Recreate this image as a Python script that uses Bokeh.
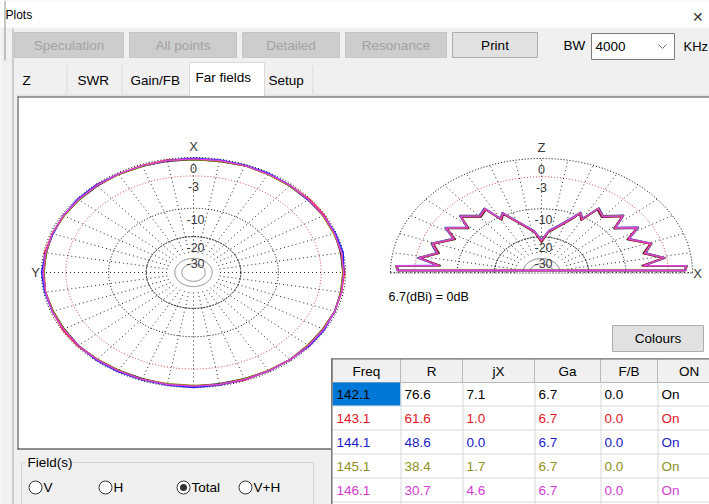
import numpy as np
from bokeh.plotting import figure
from bokeh.models import Range1d
from bokeh.embed import file_html
from bokeh.resources import INLINE
from bokeh.core.properties import value

# ---------------- data ----------------
freqs   = ["142.1", "143.1", "144.1", "145.1", "146.1"]
r_vals  = ["76.6", "61.6", "48.6", "38.4", "30.7"]
jx_vals = ["7.1", "1.0", "0.0", "1.7", "4.6"]
ga_vals = ["6.7", "6.7", "6.7", "6.7", "6.7"]
fb_vals = ["0.0", "0.0", "0.0", "0.0", "0.0"]
on_vals = ["On", "On", "On", "On", "On"]
headers = ["Freq", "R", "jX", "Ga", "F/B", "ON"]
text_colors = ["#000000", "#e3151e", "#1a1ac8", "#8f8f1c", "#d23bd2"]
line_colors = ["#202020", "#ff1010", "#2020ff", "#808000", "#e040e0"]

ring_db = [0, -3, -10, -20, -30]
ring_labels = ["0", "-3", "-10", "-20", "-30"]
ring_colors = ["#000000", "#d04848", "#000000", "#000000", "#000000"]
inner_db = [-36, -44]
max_gain_text = "6.7(dBi) = 0dB"
field_options = ["V", "H", "Total", "V+H"]
selected_field = "Total"
buttons = ["Speculation", "All points", "Detailed", "Resonance", "Print"]
tabs = ["Z", "SWR", "Gain/FB", "Far fields", "Setup"]

azimuth = list(range(0, 360, 10))
hor_db = [
    [-0.3, -0.3, -0.2, -0.2, -0.3, -0.3, -0.2, -0.2, -0.3, -0.2, -0.2, -0.3,
     -0.3, -0.2, -0.2, -0.3, -0.3, -0.2, -0.2, -0.3, -0.3, -0.2, -0.2, -0.3,
     -0.3, -0.2, -0.2, -0.3, -0.3, -0.2, -0.2, -0.3, -0.3, -0.2, -0.2, -0.3],
    [-0.2, -0.1, -0.2, -0.2, -0.1, -0.2, -0.2, -0.2, -0.1, -0.2, -0.2, -0.2,
     -0.1, -0.1, -0.2, -0.2, -0.2, -0.2, -0.2, -0.2, -0.1, -0.2, -0.2, -0.1,
     -0.2, -0.2, -0.2, -0.1, -0.2, -0.2, -0.1, -0.1, -0.2, -0.2, -0.2, -0.2],
    [-0.1, -0.2, -0.3, -0.2, -0.1, -0.1, -0.2, -0.3, -0.2, -0.0, -0.1, -0.2,
     -0.3, -0.2, -0.1, -0.1, -0.1, -0.1, -0.0, -0.1, -0.2, -0.2, -0.2, -0.1,
     -0.1, -0.2, -0.3, -0.2, -0.0, -0.1, -0.2, -0.3, -0.2, -0.1, -0.1, -0.1],
    [-0.3, -0.2, -0.3, -0.3, -0.2, -0.3, -0.3, -0.2, -0.3, -0.3, -0.2, -0.3,
     -0.3, -0.2, -0.3, -0.3, -0.2, -0.3, -0.3, -0.2, -0.3, -0.3, -0.2, -0.3,
     -0.3, -0.2, -0.3, -0.3, -0.2, -0.3, -0.3, -0.2, -0.3, -0.3, -0.2, -0.3],
    [-0.2, -0.2, -0.2, -0.2, -0.2, -0.2, -0.2, -0.2, -0.2, -0.2, -0.2, -0.2,
     -0.2, -0.2, -0.2, -0.2, -0.2, -0.2, -0.2, -0.2, -0.2, -0.2, -0.2, -0.2,
     -0.2, -0.2, -0.2, -0.2, -0.2, -0.2, -0.2, -0.2, -0.2, -0.2, -0.2, -0.2],
]

elevation = [0, 2.5, 3.6, 7.7, 12.5, 18, 25.6, 30.5, 37.5, 41.6, 49.5, 55.3,
             59.2, 63, 66, 73.7, 82, 90, 98, 106.3, 114, 117, 120.8, 124.7,
             130.5, 138.4, 142.5, 149.5, 154.4, 162, 167.5, 172.3, 176.4, 177.5, 180]
ver_db = [
    [-0.9, -0.8, -7.0, -3.6, -6.4, -4.8, -8.0, -5.4, -8.7, -5.8, -8.4, -7.4,
     -11.5, -10.0, -12.2, -15.8, -18.5, -24.0, -18.6, -15.6, -12.0, -10.1, -11.4, -7.5,
     -8.3, -5.9, -8.6, -5.5, -7.9, -4.9, -6.3, -3.7, -6.9, -0.8, -0.9],
    [-0.8, -0.7, -6.8, -3.4, -6.2, -4.7, -7.8, -5.3, -8.5, -5.7, -8.2, -7.2,
     -11.3, -9.8, -12.0, -15.6, -18.2, -23.5, -18.4, -15.3, -11.8, -9.9, -11.2, -7.3,
     -8.1, -5.8, -8.4, -5.4, -7.7, -4.8, -6.1, -3.5, -6.7, -0.7, -0.8],
    [-0.8, -0.6, -6.5, -3.2, -5.9, -4.5, -7.5, -5.0, -8.2, -5.4, -7.9, -6.9,
     -10.8, -9.5, -11.5, -15.1, -17.8, -22.5, -17.9, -15.0, -11.4, -9.6, -10.8, -7.0,
     -7.8, -5.5, -8.1, -5.1, -7.4, -4.5, -5.8, -3.2, -6.4, -0.6, -0.8],
    [-0.8, -0.6, -6.6, -3.2, -6.0, -4.5, -7.6, -5.1, -8.3, -5.5, -8.0, -7.0,
     -11.0, -9.6, -11.7, -15.3, -18.0, -22.8, -18.1, -15.1, -11.5, -9.7, -10.9, -7.1,
     -7.9, -5.6, -8.2, -5.2, -7.5, -4.6, -5.9, -3.3, -6.5, -0.6, -0.8],
    [-0.8, -0.7, -6.7, -3.3, -6.1, -4.6, -7.7, -5.2, -8.4, -5.6, -8.1, -7.1,
     -11.1, -9.7, -11.8, -15.4, -18.0, -23.0, -18.2, -15.2, -11.6, -9.8, -11.0, -7.2,
     -8.0, -5.7, -8.3, -5.3, -7.6, -4.7, -6.0, -3.4, -6.6, -0.7, -0.8],
]

# ---------------- layout (reference pixel space) ----------------
W, H = 709, 504
FONT = value("Liberation Sans")
p = figure(width=W, height=H, x_range=Range1d(0, W), y_range=Range1d(H, 0),
           output_backend="svg", toolbar_location=None, min_border=0,
           outline_line_color=None, background_fill_color="#f0f0f0",
           border_fill_color="#f0f0f0")
p.xaxis.visible = False
p.yaxis.visible = False
p.xgrid.visible = False
p.ygrid.visible = False


def box(x0, x1, y0, y1, fill, line=None, lw=1):
    p.quad(left=[x0], right=[x1], top=[y0], bottom=[y1], fill_color=fill,
           line_color=line, line_width=lw)


def txt(x, y, s, color="#000000", size="13px", align="left", baseline="middle"):
    p.text(x=[x], y=[y], text=[s], text_color=color, text_font=FONT,
           text_font_size=size, text_align=align, text_baseline=baseline)


def seg(x0, y0, x1, y1, color, lw=1, dash="solid"):
    p.segment(x0=[x0], y0=[y0], x1=[x1], y1=[y1], line_color=color,
              line_width=lw, line_dash=dash)


# title bar
box(0, W, 0, 27, "#ffffff")
txt(5, 14, "Plots", size="12px")
txt(697, 16, "\u2715", color="#333333", size="14px", align="center")
seg(12.5, 28, 12.5, H, "#a8a8a8")
seg(4.5, 0, 4.5, 60, "#909090")

# buttons
btn_x = [(14, 123), (129, 236), (242, 339), (345, 446), (452, 537)]
for (x0, x1), lab in zip(btn_x, buttons):
    enabled = lab == "Print"
    box(x0, x1, 32, 57, "#e1e1e1" if enabled else "#cdcdcd",
        "#adadad" if enabled else "#c4c4c4")
    txt((x0 + x1) / 2, 45, lab, color="#000000" if enabled else "#a2a2a2",
        size="13.5px", align="center")
txt(563, 45, "BW", size="13.5px")
box(591, 674, 33, 59, "#ffffff", "#7a7a7a")
txt(595, 46, "4000", size="13.5px")
p.line(x=[658, 662, 666], y=[44, 48, 44], line_color="#707070", line_width=1)
txt(683, 46, "KHz", size="13px")

# tabs
tab_x = [(15, 66), (66, 121), (121, 189), (189, 264), (264, 312)]
tab_tx = [22, 77, 130, 195, 268]
for (x0, x1), tx, lab in zip(tab_x, tab_tx, tabs):
    if lab == "Far fields":
        box(x0, x1, 62, 96, "#ffffff", "#d9d9d9")
        txt(tx, 77, lab, size="13.5px")
    else:
        seg(x1 + 0.5, 65, x1 + 0.5, 94, "#d9d9d9")
        txt(tx, 80, lab, size="13.5px")
seg(15, 94.5, 189, 94.5, "#d9d9d9")
seg(264, 94.5, W, 94.5, "#d9d9d9")

# white plot panel
box(17, W, 96, 449, "#ffffff")
seg(17.5, 96, 17.5, 449, "#404040")
seg(17, 96.5, W, 96.5, "#404040")
seg(17, 448.5, 332, 448.5, "#202020")


def arrl(db):
    return 0.89 ** (-np.asarray(db, dtype=float) / 2.0)


# ---------- horizontal (azimuth) chart ----------
hcx, hcy, hrx, hry = 193, 272, 152, 115
t = np.linspace(0, 2 * np.pi, 361)
for db, col in zip(ring_db, ring_colors):
    if db == -30:
        continue
    r = arrl(db)
    dash = "2 1" if db == -20 else "1 2"
    p.line(x=hcx + hrx * r * np.cos(t), y=hcy - hry * r * np.sin(t),
           line_color=col, line_width=1, line_dash=dash)
for db in inner_db:
    r = arrl(db)
    p.line(x=hcx + hrx * r * np.cos(t), y=hcy - hry * r * np.sin(t),
           line_color="#808080", line_width=1)
r_in = arrl(ring_db[-1])
ang = np.radians(np.arange(0, 360, 10))
p.segment(x0=hcx + hrx * r_in * np.cos(ang), y0=hcy - hry * r_in * np.sin(ang),
          x1=hcx + hrx * np.cos(ang), y1=hcy - hry * np.sin(ang),
          line_color="#000000", line_width=1, line_dash="1 3", line_alpha=0.85)
for db, lab in zip(ring_db, ring_labels):
    txt(hcx + (0 if len(lab) < 3 else 2), hcy - hry * arrl(db) + 11, lab,
        color="#3a3a3a", size="12.5px", align="center")
txt(hcx, 146, "X", color="#3a3a3a", size="13px", align="center")
txt(35, 272, "Y", color="#3a3a3a", size="13px", align="center")

az = np.radians(np.array(azimuth + [azimuth[0]], dtype=float))
for vals, col in zip(hor_db, line_colors):
    r = arrl(vals + [vals[0]])
    p.line(x=hcx - hrx * r * np.sin(az), y=hcy - hry * r * np.cos(az),
           line_color=col, line_width=1.4)

# ---------- vertical (elevation) chart ----------
vcx, vcy, vrx, vry = 541, 272, 151, 114
th = np.linspace(0, np.pi, 181)
for db, col in zip(ring_db, ring_colors):
    if db == -30:
        continue
    r = arrl(db)
    dash = "2 1" if db == -20 else "1 2"
    p.line(x=vcx + vrx * r * np.cos(th), y=vcy - vry * r * np.sin(th),
           line_color=col, line_width=1, line_dash=dash)
for db in inner_db:
    r = arrl(db)
    p.line(x=vcx + vrx * r * np.cos(th), y=vcy - vry * r * np.sin(th),
           line_color="#707070", line_width=1)
ang = np.radians(np.arange(0, 181, 10))
p.segment(x0=vcx + vrx * r_in * np.cos(ang), y0=vcy - vry * r_in * np.sin(ang),
          x1=vcx + vrx * np.cos(ang), y1=vcy - vry * np.sin(ang),
          line_color="#000000", line_width=1, line_dash="1 3", line_alpha=0.85)
seg(vcx - vrx, vcy + 0.5, vcx + vrx, vcy + 0.5, "#000000", 1, "1 2")
for db, lab in zip(ring_db, ring_labels):
    txt(vcx + (0 if len(lab) < 3 else 2), vcy - vry * arrl(db) + 11, lab,
        color="#3a3a3a", size="12.5px", align="center")
txt(vcx, 147, "Z", color="#3a3a3a", size="13px", align="center")
txt(697, 273, "X", color="#3a3a3a", size="13px", align="center")

el = np.radians(np.array(elevation + [elevation[0]], dtype=float))
for vals, col in zip(ver_db, line_colors):
    r = arrl(vals + [vals[0]])
    p.line(x=vcx + vrx * r * np.cos(el), y=vcy - 2 - vry * r * np.sin(el),
           line_color=col, line_width=1.4)

txt(388, 296, max_gain_text, size="12.5px")

# ---------- Colours button ----------
box(612, 703, 325, 351, "#e1e1e1", "#adadad")
txt(657.5, 338, "Colours", size="13.5px", align="center")

# ---------- table ----------
col_edges = [332, 400, 462, 534, 600, 657, 720]
row_top = 358
row_h = 24
box(331, 720, row_top, 510, "#ffffff", "#8a8a8a")
for i, h in enumerate(headers):
    x0, x1 = col_edges[i], col_edges[i + 1]
    box(x0, x1, row_top, row_top + row_h, "#f0f0f0", "#b8b8b8")
    txt((x0 + x1) / 2, row_top + row_h / 2 + 1, h, size="13.5px", align="center")
columns = [freqs, r_vals, jx_vals, ga_vals, fb_vals, on_vals]
for j in range(len(freqs)):
    y0 = row_top + row_h * (j + 1)
    seg(332, y0 + row_h - 0.5, 720, y0 + row_h - 0.5, "#d8d8d8")
    for i, colvals in enumerate(columns):
        x0 = col_edges[i]
        if j == 0 and i == 0:
            box(x0, col_edges[1], y0, y0 + row_h - 1, "#0078d7")
        txt(x0 + 4, y0 + row_h / 2, colvals[j], color=text_colors[j], size="13.5px")
for x in col_edges[1:-1]:
    seg(x + 0.5, row_top + row_h, x + 0.5, 510, "#d8d8d8")
seg(331.5, row_top, 331.5, 510, "#6a6a6a")
seg(331, row_top + 0.5, 720, row_top + 0.5, "#6a6a6a")

# ---------- Field(s) group ----------
p.quad(left=[21], right=[313], top=[462], bottom=[512], fill_color=None,
       line_color="#d5d5d5")
box(25, 66, 455, 469, "#f0f0f0")
txt(27, 462, "Field(s)", size="13.5px")
radio_cx = [35, 105, 183, 245]
for cx, lab in zip(radio_cx, field_options):
    p.scatter(x=[cx], y=[487], size=13, marker="circle", fill_color="#ffffff",
              line_color="#333333", line_width=1)
    if lab == selected_field:
        p.scatter(x=[cx], y=[487], size=7, marker="circle", fill_color="#333333",
                  line_color=None)
    txt(cx + 8, 487, lab, size="13.5px")

open("out.html", "w").write(file_html(p, INLINE))
